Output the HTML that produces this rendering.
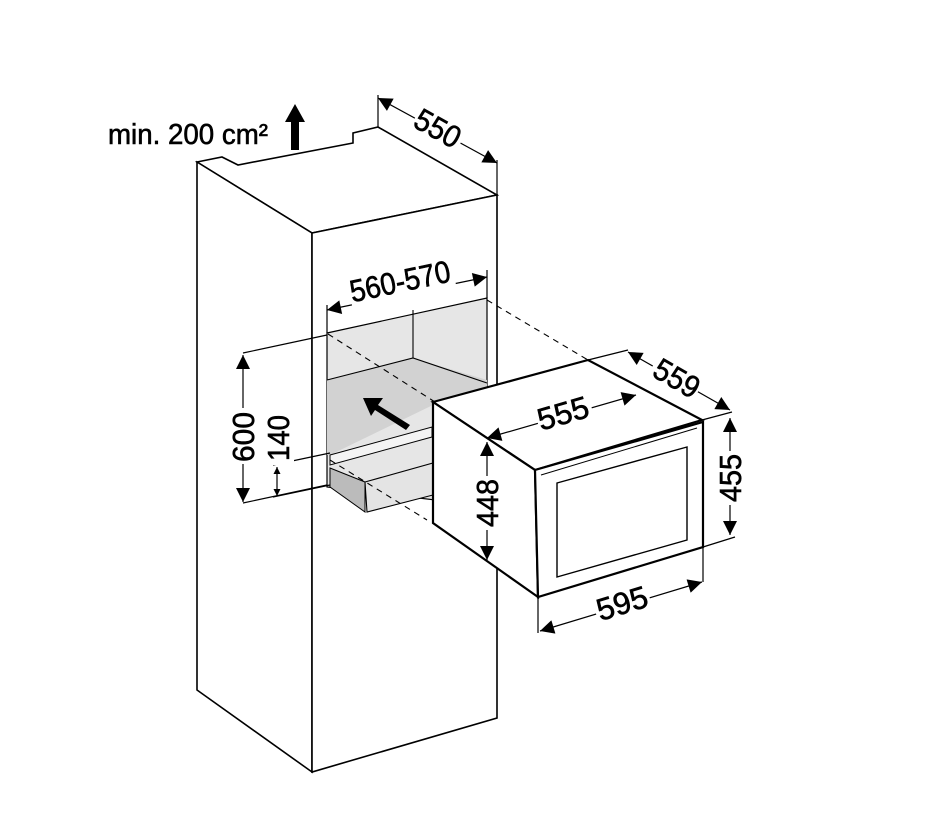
<!DOCTYPE html>
<html><head><meta charset="utf-8"><style>
html,body{margin:0;padding:0;background:#fff;}
svg{display:block;}
text{font-family:"Liberation Sans Narrow","Liberation Sans",sans-serif;fill:#000;stroke:#000;stroke-width:0.6;}
</style></head><body>
<svg width="927" height="824" viewBox="0 0 927 824" xmlns="http://www.w3.org/2000/svg">
<defs>
<marker id="a" viewBox="0 0 10 10" refX="10" refY="5" markerWidth="7" markerHeight="7" orient="auto-start-reverse" markerUnits="userSpaceOnUse">
<path d="M0,0 L10,5 L0,10 z" fill="#000"/></marker>
<marker id="b" viewBox="0 0 10 10" refX="10" refY="5" markerWidth="20" markerHeight="14" orient="auto-start-reverse" markerUnits="userSpaceOnUse">
<path d="M0,0 L10,5 L0,10 z" fill="#000"/></marker>
</defs>
<g stroke="#000" fill="none" stroke-width="1.6">
<path d="M197,162 L222,157 L238,165 L353,143 L353,133 L378,127 L497,195 L312,233 Z" fill="#fff"/>
<path d="M197,162 L312,233 L312,772 L197,690 Z" fill="#fff"/>
<path d="M312,233 L497,195 L497,718 L312,772 Z" fill="#fff"/>
<path d="M327,333 L487,298 L487,400 L435,410 L435,500 L327,487 Z" fill="#e6e6e6" stroke-width="1.2"/>
<path d="M327,380 L413,358 L487,380 L487,400 L435,404 L330,455 L327,455 Z" fill="#d2d2d2" stroke="none"/>
<path d="M327,380 L413,358 L487,383" stroke-width="1.1"/>
<path d="M413,310 L413,358" stroke-width="1.1"/>
<path d="M330,455 L432,427 L432,437 L330,465 Z" fill="#f4f4f4" stroke-width="1"/>
<path d="M330,468 L365,482 L365,512 L330,487 Z" fill="#bbb" stroke-width="1"/>
<path d="M365,482 L433,463 L433,495 L367,512 Z" fill="#e4e4e4" stroke-width="1.1"/>
<path d="M410,425 L378,405 L383,398 L363,398 L371,416 L375,410 L406,430 Z" fill="#000" stroke="none"/>
<g stroke-dasharray="6,5" stroke-width="1.1">
<path d="M487,300 L588,360"/>
<path d="M328,334 L435,402"/>
<path d="M330,460 L427,520"/>
</g>
<path d="M433,402 L588,360 L702,420 L535,470 Z" fill="#fff" stroke-width="2.2"/>
<path d="M433,402 L535,470 L538,597 L433,523 Z" fill="#fff" stroke-width="2.2"/>
<path d="M535,470 L703,422 L703,547 L538,597 Z" fill="#fff" stroke-width="2.2"/>
<path d="M541,475 L697,428" stroke-width="1"/>
<path d="M557,483 L687,447 L687,540 L557,577 Z" stroke-width="1.4"/>
<g stroke-width="1.2">
<path d="M378,95 L378,127 M497,160 L497,195"/>
<path d="M378,98 L497,163" marker-start="url(#b)" marker-end="url(#b)"/>
<path d="M327,305 L327,333 M487,270 L487,298"/>
<path d="M327,310 L487,277" marker-start="url(#b)" marker-end="url(#b)"/>
<path d="M243,353 L327,335 M243,503 L327,485"/>
<path d="M243,355 L243,502" marker-start="url(#b)" marker-end="url(#b)"/>
<path d="M273,465 L330,453 M273,497 L330,485"/>
<path d="M277,467 L277,496" marker-start="url(#a)" marker-end="url(#a)"/>
<path d="M588,360 L628,350 M702,420 L732,412"/>
<path d="M628,352 L730,410" marker-start="url(#b)" marker-end="url(#b)"/>
<path d="M487,438 L636,395" marker-start="url(#b)" marker-end="url(#b)"/>
<path d="M487,442 L487,560" marker-start="url(#b)" marker-end="url(#b)"/>
<path d="M703,547 L735,537"/>
<path d="M730,418 L730,535" marker-start="url(#b)" marker-end="url(#b)"/>
<path d="M538,597 L538,633 M703,548 L703,582"/>
<path d="M540,631 L702,582" marker-start="url(#b)" marker-end="url(#b)"/>
</g>
</g>
<g fill="#fff">
<rect x="413" y="112" width="52" height="34" transform="rotate(29 438 128)"/>
<rect x="348" y="264" width="106" height="32" transform="rotate(-12 400 281)"/>
<rect x="226" y="408" width="34" height="56"/>
<rect x="262" y="411" width="32" height="54"/>
<rect x="650" y="360" width="52" height="34" transform="rotate(30 677 378)"/>
<rect x="536" y="396" width="56" height="32" transform="rotate(-16 563 413)"/>
<rect x="470" y="476" width="34" height="54"/>
<rect x="713" y="451" width="34" height="54"/>
<rect x="594" y="586" width="56" height="32" transform="rotate(-17 622 603)"/>
</g>
<g font-size="31">
<text x="438" y="139" text-anchor="middle" transform="rotate(29 438 128)" textLength="48" lengthAdjust="spacingAndGlyphs">550</text>
<text x="400" y="292" text-anchor="middle" transform="rotate(-12 400 281)" textLength="102" lengthAdjust="spacingAndGlyphs">560-570</text>
<text x="243" y="448" text-anchor="middle" transform="rotate(-90 243 437)" textLength="50" lengthAdjust="spacingAndGlyphs">600</text>
<text x="278" y="449" text-anchor="middle" transform="rotate(-90 278 438)" textLength="46" lengthAdjust="spacingAndGlyphs">140</text>
<text x="677" y="389" text-anchor="middle" transform="rotate(30 677 378)" textLength="48" lengthAdjust="spacingAndGlyphs">559</text>
<text x="563" y="424" text-anchor="middle" transform="rotate(-16 563 413)" textLength="52" lengthAdjust="spacingAndGlyphs">555</text>
<text x="487" y="514" text-anchor="middle" transform="rotate(-90 487 503)" textLength="48" lengthAdjust="spacingAndGlyphs">448</text>
<text x="730" y="489" text-anchor="middle" transform="rotate(-90 730 478)" textLength="48" lengthAdjust="spacingAndGlyphs">455</text>
<text x="622" y="614" text-anchor="middle" transform="rotate(-17 622 603)" textLength="52" lengthAdjust="spacingAndGlyphs">595</text>
</g>
<text x="108" y="144" font-size="29" textLength="160" lengthAdjust="spacingAndGlyphs">min. 200 cm²</text>
<path d="M291,150 L291,122 L285,122 L295,104 L305,122 L299,122 L299,150 Z" fill="#000"/>
</svg>
</body></html>
